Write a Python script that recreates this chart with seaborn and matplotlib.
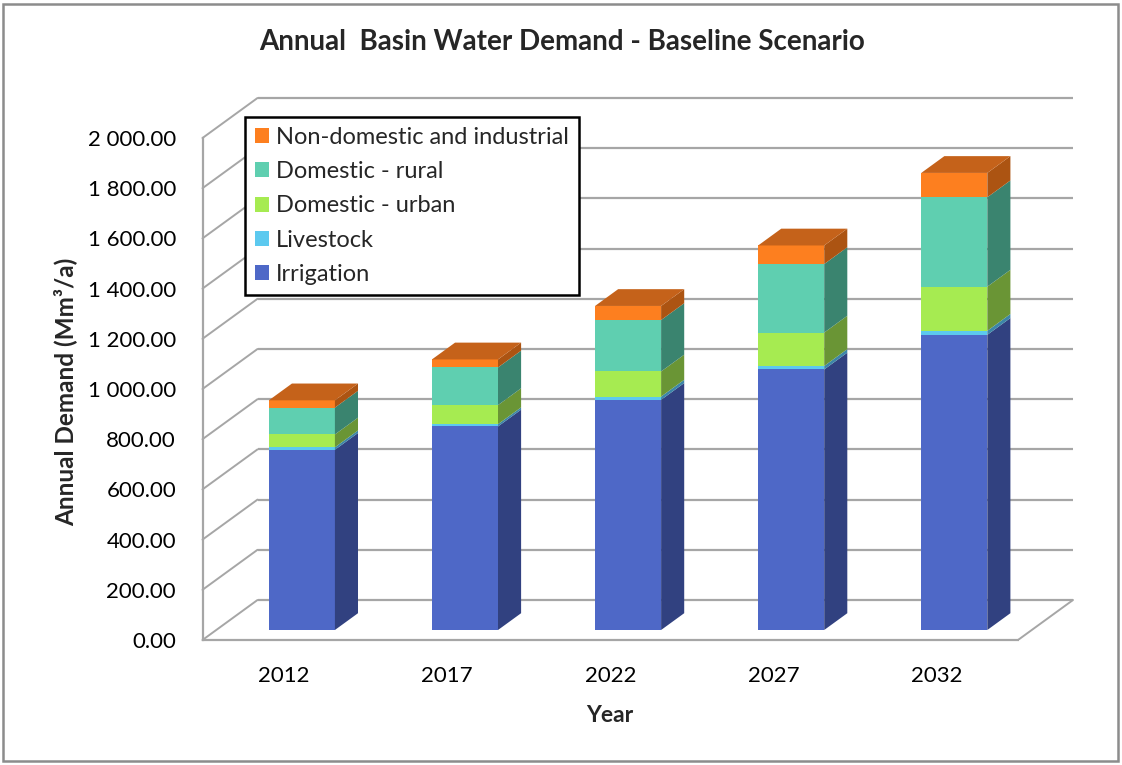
import numpy as np
import matplotlib
matplotlib.use("Agg")
import matplotlib.pyplot as plt
import matplotlib.transforms as mtransforms
from matplotlib.patches import Polygon, Patch, Rectangle
from matplotlib.ticker import FuncFormatter, FixedLocator
import seaborn as sns

# ---- data -------------------------------------------------------------
years = ["2012", "2017", "2022", "2027", "2032"]
irrigation = [718, 811, 917, 1038, 1176]
livestock = [10, 9, 13, 14, 16]
domestic_urban = [51, 76, 100, 133, 176]
domestic_rural = [107, 150, 205, 273, 356]
non_domestic = [29, 32, 56, 74, 97]

series_names = ["Irrigation", "Livestock", "Domestic - urban",
                "Domestic - rural", "Non-domestic and industrial"]
y_ticks = [0, 200, 400, 600, 800, 1000, 1200, 1400, 1600, 1800, 2000]

title = "Annual  Basin Water Demand - Baseline Scenario"
x_title = "Year"
y_title = "Annual Demand (Mm³/a)"

# ---- style ------------------------------------------------------------
front_colors = ["#4E68C7", "#5CC9EF", "#A6EB51", "#5FCFB0", "#FD7F1F"]
side_colors = ["#314180", "#3C86A8", "#6A9535", "#3A846F", "#AC5412"]
top_color = "#C5621A"
grid_color = "#A6A6A6"

sns.set_style("white")
plt.rcParams["font.family"] = ["Lato", "DejaVu Sans"]

W, H = 1122, 765
fig = plt.figure(figsize=(W / 100, H / 100), dpi=100)

# Pixel geometry of the pseudo-3D box (front floor edge and value scale)
X0_PX, X1_PX = 202.5, 1018.0          # front floor edge, slots -0.5 .. 4.5
Y0_PX, Y2000_PX = 640.0, 138.0        # value 0 and 2000 on the front plane
px_per_slot = (X1_PX - X0_PX) / 5
px_per_unit = (Y0_PX - Y2000_PX) / 2000
dx = 55 / px_per_slot                 # full depth, in slot units
dy = 40 / px_per_unit                 # full depth, in value units
f0, f1 = 0.25, 0.67                   # bar front / back depth fractions
bar_w = 0.405

xlim = (-0.5, 4.5 + dx + 0.05)
ylim = (0, 2000 + dy + 25)
ax_right_px = X0_PX + (xlim[1] - xlim[0]) * px_per_slot
ax_top_px = Y0_PX - ylim[1] * px_per_unit
ax = fig.add_axes([X0_PX / W, 1 - Y0_PX / H,
                   (ax_right_px - X0_PX) / W, (Y0_PX - ax_top_px) / H])

# ---- back wall, left wall and floor lines ----------------------------
for v in y_ticks:
    ax.plot([-0.5 + dx, 4.5 + dx], [v + dy, v + dy], color=grid_color,
            lw=1.6, zorder=1, solid_capstyle="butt")
    ax.plot([-0.5, -0.5 + dx], [v, v + dy], color=grid_color, lw=1.4,
            zorder=1, clip_on=False)
ax.plot([4.5, 4.5 + dx], [0, dy], color=grid_color, lw=1.4, zorder=1)

# ---- stacked bars (front faces) --------------------------------------
layers = np.array([irrigation, livestock, domestic_urban, domestic_rural,
                   non_domestic], dtype=float)
cum = np.cumsum(layers, axis=0)
depth_shift = mtransforms.Affine2D().translate(f0 * dx + 0.025, f0 * dy) + ax.transData

for i in reversed(range(len(layers))):
    n_before = len(ax.patches)
    sns.barplot(x=years, y=cum[i], color=front_colors[i], saturation=1,
                width=bar_w, errorbar=None, linewidth=0, ax=ax, zorder=3)
    for p in ax.patches[n_before:]:
        p.set_transform(depth_shift)

# ---- side and top faces ----------------------------------------------
ddx = (f1 - f0) * dx
ddy = (f1 - f0) * dy
for j in range(len(years)):
    xr = j + bar_w / 2
    xl = j - bar_w / 2
    for i in range(len(layers)):
        lo = cum[i - 1][j] if i > 0 else 0.0
        hi = cum[i][j]
        side = Polygon([(xr, lo), (xr + ddx, lo + ddy), (xr + ddx, hi + ddy), (xr, hi)],
                       closed=True, facecolor=side_colors[i], edgecolor="none",
                       transform=depth_shift, zorder=3)
        ax.add_patch(side)
    top = cum[-1][j]
    ax.add_patch(Polygon([(xl, top), (xr, top), (xr + ddx, top + ddy), (xl + ddx, top + ddy)],
                         closed=True, facecolor=top_color, edgecolor="none",
                         transform=depth_shift, zorder=3))

# ---- axes -------------------------------------------------------------
ax.set_xlim(*xlim)
ax.set_ylim(*ylim)
ax.set_facecolor("none")
for s in ["top", "right"]:
    ax.spines[s].set_visible(False)
for s in ["left", "bottom"]:
    ax.spines[s].set_color(grid_color)
    ax.spines[s].set_linewidth(1.6)
ax.spines["left"].set_bounds(0, 2000)
ax.spines["bottom"].set_bounds(-0.5, 4.5)

ax.set_yticks(y_ticks)
ax.yaxis.set_major_formatter(FuncFormatter(lambda v, pos: f"{v:,.2f}".replace(",", " ")))
ax.tick_params(axis="y", direction="out", length=7, width=1.5, color=grid_color,
               labelsize=16, pad=12, labelcolor="black")

ax.xaxis.set_major_locator(FixedLocator([-0.5, 0.5, 1.5, 2.5, 3.5, 4.5]))
ax.xaxis.set_minor_locator(FixedLocator(list(range(len(years)))))
ax.set_xticklabels([], minor=False)
ax.set_xticklabels(years, minor=True)
ax.tick_params(axis="x", which="major", direction="out", length=7, width=1.5,
               color=grid_color)
ax.tick_params(axis="x", which="minor", length=0, labelsize=16, pad=19,
               labelcolor="black")

ax.set_xlabel(x_title, fontsize=16.5, fontweight="bold")
ax.xaxis.set_label_coords(610 / W, 1 - 716 / H, transform=fig.transFigure)
ax.xaxis.label.set_verticalalignment("center")
ax.set_ylabel(y_title, fontsize=17.5, fontweight="bold")
ax.yaxis.set_label_coords(65 / W, 1 - 392 / H, transform=fig.transFigure)
ax.yaxis.label.set_verticalalignment("center")

fig.suptitle(title, x=562 / W, y=1 - 42 / H, va="center", fontsize=20,
             fontweight="bold")

# ---- legend -----------------------------------------------------------
handles = [Patch(facecolor=front_colors[i], edgecolor="none", label=series_names[i])
           for i in reversed(range(len(layers)))]
leg = fig.legend(handles=handles, loc="upper left",
                 bbox_to_anchor=(245 / W, 1 - 117 / H), bbox_transform=fig.transFigure,
                 borderaxespad=0, fontsize=17, frameon=True, fancybox=False,
                 framealpha=1, edgecolor="black", handlelength=0.6,
                 handleheight=0.6, handletextpad=0.3, labelspacing=0.56,
                 borderpad=0.42)
leg.get_frame().set_linewidth(1.8)

# ---- chart border -----------------------------------------------------
fig.patches.append(Rectangle((3 / W, 4 / H), (W - 7) / W, (H - 8) / H,
                             transform=fig.transFigure, fill=False,
                             edgecolor="#8C8C8C", linewidth=1.8))

fig.savefig("out.png", dpi=100)
